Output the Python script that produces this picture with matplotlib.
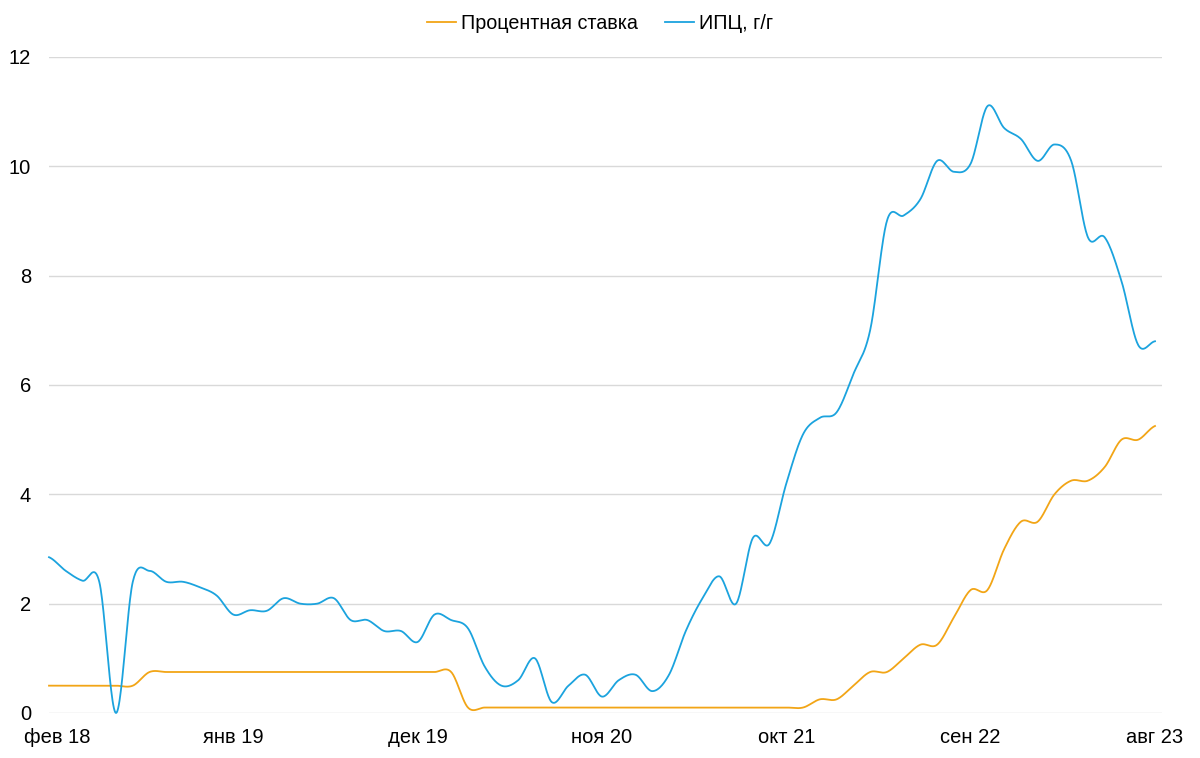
import numpy as np
import matplotlib
matplotlib.use("Agg")
import matplotlib.pyplot as plt
import matplotlib.transforms as mtransforms

plt.rcParams['font.family'] = ['Liberation Sans', 'DejaVu Sans']

# monthly data, feb 2018 .. aug 2023
tick_pos = [0, 11, 22, 33, 44, 55, 66]
tick_labels = ['фев 18', 'янв 19', 'дек 19', 'ноя 20', 'окт 21', 'сен 22', 'авг 23']

rate = [0.5, 0.5, 0.5, 0.5, 0.5, 0.5,                  # 2018 feb-jul
        0.75, 0.75, 0.75, 0.75, 0.75,                  # aug-dec
        0.75, 0.75, 0.75, 0.75, 0.75, 0.75, 0.75, 0.75, 0.75, 0.75, 0.75, 0.75,  # 2019
        0.75, 0.75, 0.1, 0.1, 0.1, 0.1, 0.1, 0.1, 0.1, 0.1, 0.1, 0.1,            # 2020
        0.1, 0.1, 0.1, 0.1, 0.1, 0.1, 0.1, 0.1, 0.1, 0.1, 0.1, 0.25,             # 2021
        0.25, 0.5, 0.75, 0.75, 1.0, 1.25, 1.25, 1.75, 2.25, 2.25, 3.0, 3.5,      # 2022
        3.5, 4.0, 4.25, 4.25, 4.5, 5.0, 5.0, 5.25]                               # 2023

cpi = [2.85, 2.6, 2.42, 2.4, 0.0, 2.4, 2.6, 2.4, 2.4, 2.3, 2.15,
       1.8, 1.88, 1.87, 2.1, 2.0, 2.0, 2.1, 1.7, 1.7, 1.5, 1.5, 1.3,
       1.8, 1.7, 1.55, 0.85, 0.5, 0.6, 1.0, 0.2, 0.5, 0.7, 0.3, 0.6,
       0.7, 0.4, 0.7, 1.5, 2.1, 2.5, 2.0, 3.2, 3.1, 4.2, 5.1, 5.4,
       5.5, 6.2, 7.0, 9.0, 9.1, 9.4, 10.1, 9.9, 10.05, 11.1, 10.7, 10.5,
       10.1, 10.4, 10.1, 8.7, 8.7, 7.9, 6.73, 6.8]


def smooth(y, steps=24):
    # catmull-rom through the monthly points
    y = np.asarray(y, dtype=float)
    yp = np.concatenate([[y[0]], y, [y[-1]]])
    m = (yp[2:] - yp[:-2]) / 2
    t = np.linspace(0, 1, steps, endpoint=False)
    h00 = 2 * t**3 - 3 * t**2 + 1
    h10 = t**3 - 2 * t**2 + t
    h01 = -2 * t**3 + 3 * t**2
    h11 = t**3 - t**2
    xs, ys = [], []
    for i in range(len(y) - 1):
        xs.append(i + t)
        ys.append(h00 * y[i] + h10 * m[i] + h01 * y[i + 1] + h11 * m[i + 1])
    xs.append([len(y) - 1])
    ys.append([y[-1]])
    return np.concatenate(xs), np.concatenate(ys)


fig = plt.figure(figsize=(12, 7.58), dpi=100)
ax = fig.add_axes([49 / 1200, 1 - 713 / 758, (1162 - 49) / 1200, (713 - 57) / 758])

x_r, y_r = smooth(rate)
x_c, y_c = smooth(cpi)
ax.plot(x_r, y_r, color='#F2A516', lw=1.3, label='Процентная ставка', clip_on=False, zorder=3)
ax.plot(x_c, y_c, color='#1BA3DE', lw=1.3, label='ИПЦ, г/г', clip_on=False, zorder=3)

ax.set_xlim(0, 66 + 7 / 16.76)
ax.set_ylim(0, 12)
ax.set_yticks(range(0, 13, 2))
ax.set_xticks(tick_pos)
ax.set_xticklabels(tick_labels)
ax.grid(axis='y', color='#D9D9D9', lw=1)
ax.set_axisbelow(True)
for s in ax.spines.values():
    s.set_visible(False)
ax.tick_params(length=0, labelsize=14.5, colors='black')
ax.tick_params(axis='x', pad=11)
ax.tick_params(axis='y', pad=13)

# first label sits a bit right of its tick
lbl = ax.get_xticklabels()[0]
lbl.set_transform(lbl.get_transform() + mtransforms.ScaledTranslation(8 / 100, 0, fig.dpi_scale_trans))

fig.legend(loc='upper center', bbox_to_anchor=(0.5, 1.005), ncol=2, frameon=False,
           fontsize=14.2, handlelength=1.45, handletextpad=0.25, columnspacing=1.4)

fig.savefig('out.png', dpi=100)
